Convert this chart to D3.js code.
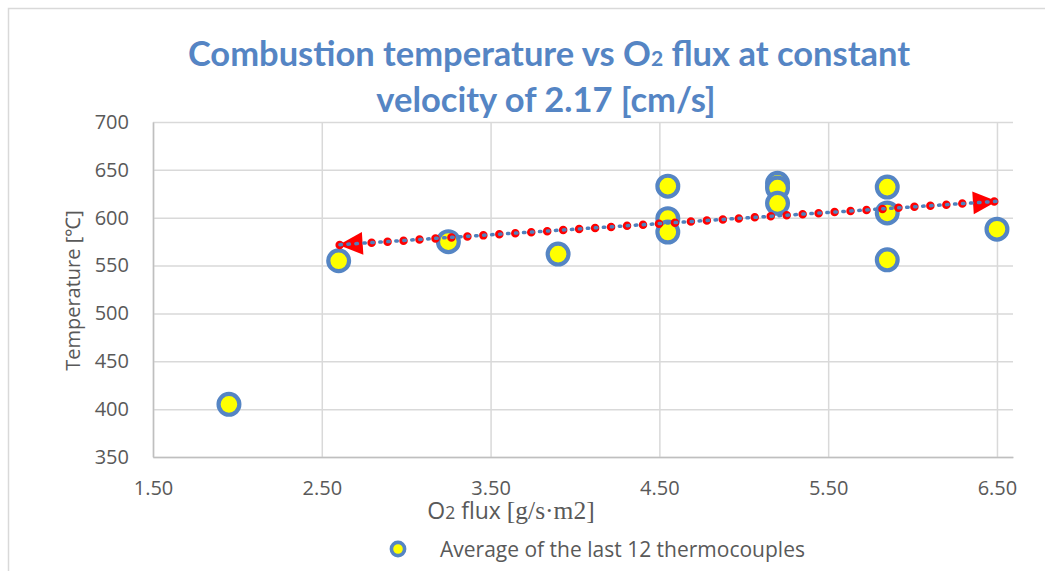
<!DOCTYPE html>
<html>
<head>
<meta charset="UTF-8">
<title>Combustion temperature vs O2 flux</title>
<style>
  body { margin: 0; background: #fff; }
  svg { display: block; }
</style>
</head>
<body>
<script src="https://cdn.jsdelivr.net/npm/d3@7"></script>
<script>

    // O2 flux [g/s·m2] and average temperature [°C] of the last 12 thermocouples
    var fluxX = [1.95, 2.60, 3.25, 3.90, 4.55, 4.55, 4.55, 5.20, 5.20, 5.20, 5.85, 5.85, 5.85, 6.50];
    var tempY = [405, 555, 575, 562, 633, 599, 585, 636, 631, 615, 632, 605, 556, 588];
    var xTicks = [1.5, 2.5, 3.5, 4.5, 5.5, 6.5];
    var yTicks = [350, 400, 450, 500, 550, 600, 650, 700];
    var trendFrom = 2.6;   // linear trendline fitted from this flux on

    var w = 1045,
        h = 571;
    var pLeft = 153, pTop = 122, pRight = 1013, pBottom = 457;

    var svg = d3.select('body').append('svg')
        .attr('width', w)
        .attr('height', h);

    // chart border
    svg.append('rect')
        .attr('x', 8.5).attr('y', 8.5)
        .attr('width', w + 20).attr('height', h + 20)
        .attr('fill', 'none')
        .attr('stroke', '#d9d9d9')
        .attr('stroke-width', 1.5);

    var x = d3.scaleLinear().domain([1.5, 6.595]).range([pLeft, pRight]);
    var y = d3.scaleLinear().domain([350, 700]).range([pBottom, pTop]);

    var tickFont = '"Open Sans", sans-serif';

    // grid
    svg.append('g')
        .attr('transform', 'translate(0,' + pBottom + ')')
        .call(d3.axisBottom(x).tickValues(xTicks).tickSize(-(pBottom - pTop)).tickFormat(''))
        .call(function(g) {
            g.select('.domain').remove();
            g.selectAll('line').attr('stroke', '#d9d9d9').attr('stroke-width', 1.5);
        });
    svg.append('g')
        .attr('transform', 'translate(' + pLeft + ',0)')
        .call(d3.axisLeft(y).tickValues(yTicks).tickSize(-(pRight - pLeft)).tickFormat(''))
        .call(function(g) {
            g.select('.domain').remove();
            g.selectAll('line').attr('stroke', '#d9d9d9').attr('stroke-width', 1.5);
        });

    // axes
    svg.append('g')
        .attr('transform', 'translate(0,' + pBottom + ')')
        .call(d3.axisBottom(x).tickValues(xTicks).tickSize(0).tickFormat(d3.format('.2f')))
        .call(function(g) {
            g.select('.domain').attr('stroke', '#bfbfbf').attr('stroke-width', 1.5);
            g.selectAll('text')
                .attr('dy', null)
                .attr('y', 38)
                .attr('fill', '#595959')
                .style('font-family', tickFont)
                .style('font-size', '20px');
        });
    svg.append('g')
        .attr('transform', 'translate(' + pLeft + ',0)')
        .call(d3.axisLeft(y).tickValues(yTicks).tickSize(0).tickPadding(24))
        .call(function(g) {
            g.select('.domain').attr('stroke', '#bfbfbf').attr('stroke-width', 1.5);
            g.selectAll('text')
                .attr('fill', '#595959')
                .style('font-family', tickFont)
                .style('font-size', '20px');
        });

    // points
    var points = fluxX.map(function(d, i) { return [d, tempY[i]]; });

    svg.append('g').selectAll('circle')
        .data(points)
        .enter()
        .append('circle')
        .attr('cx', function(d) { return x(d[0]); })
        .attr('cy', function(d) { return y(d[1]); })
        .attr('r', 10.4)
        .attr('fill', '#ffff00')
        .attr('stroke', '#5585c4')
        .attr('stroke-width', 4.2);

    // linear trendline (least squares)
    var fit = points.filter(function(d) { return d[0] >= trendFrom; });
    var mx = d3.mean(fit, function(d) { return d[0]; }),
        my = d3.mean(fit, function(d) { return d[1]; });
    var sxy = d3.sum(fit, function(d) { return (d[0] - mx) * (d[1] - my); }),
        sxx = d3.sum(fit, function(d) { return (d[0] - mx) * (d[0] - mx); });
    var slope = sxy / sxx, icpt = my - slope * mx;
    var x0 = d3.min(fit, function(d) { return d[0]; }),
        x1 = d3.max(fit, function(d) { return d[0]; });
    var p0 = [x(x0), y(icpt + slope * x0)],
        p1 = [x(x1), y(icpt + slope * x1)];
    var ang = Math.atan2(p1[1] - p0[1], p1[0] - p0[0]) * 180 / Math.PI;

    var trend = svg.append('g');
    trend.append('line')
        .attr('x1', p0[0]).attr('y1', p0[1])
        .attr('x2', p1[0]).attr('y2', p1[1])
        .attr('stroke', '#ff0000')
        .attr('stroke-width', 8.5)
        .attr('stroke-linecap', 'round')
        .attr('stroke-dasharray', '0 16')
        .attr('stroke-dashoffset', -33);

    var arrow = 'M0,0 L-24,-11.5 L-24,11.5 Z';
    trend.append('path')
        .attr('d', arrow)
        .attr('transform', 'translate(' + p1[0] + ',' + p1[1] + ') rotate(' + ang + ')')
        .attr('fill', '#ff0000');
    trend.append('path')
        .attr('d', arrow)
        .attr('transform', 'translate(' + p0[0] + ',' + p0[1] + ') rotate(' + (ang + 180) + ')')
        .attr('fill', '#ff0000');

    trend.append('line')
        .attr('x1', p0[0] - 3).attr('y1', p0[1])
        .attr('x2', p1[0]).attr('y2', p1[1])
        .attr('stroke', '#4f81bd')
        .attr('stroke-width', 3.5)
        .attr('stroke-linecap', 'round')
        .attr('stroke-dasharray', '1.5 6.5')
        .attr('stroke-dashoffset', -4.25);

    // title
    var title = svg.append('text')
        .attr('text-anchor', 'middle')
        .attr('fill', '#5585c4')
        .style('font-family', 'Lato, sans-serif')
        .style('font-weight', 'bold')
        .style('font-size', '34.5px');
    var t1 = title.append('tspan').attr('x', 549).attr('y', 66);
    t1.append('tspan').text('Combustion temperature vs O');
    t1.append('tspan').style('font-size', '21px').text('2');
    t1.append('tspan').text(' flux at constant');
    title.append('tspan').attr('x', 546).attr('y', 112).text('velocity of 2.17 [cm/s]');

    // axis titles
    var xt = svg.append('text')
        .attr('x', 511).attr('y', 519)
        .attr('text-anchor', 'middle')
        .attr('fill', '#595959')
        .style('font-family', tickFont)
        .style('font-size', '23px');
    xt.append('tspan').text('O');
    xt.append('tspan').style('font-size', '17.5px').text('2');
    xt.append('tspan').text(' flux ');
    xt.append('tspan').style('font-family', '"Liberation Serif", serif').style('font-size', '25.5px').text('[g/s·m2]');

    svg.append('text')
        .attr('transform', 'translate(80,' + ((pTop + pBottom) / 2 + 1) + ') rotate(-90)')
        .attr('text-anchor', 'middle')
        .attr('fill', '#595959')
        .style('font-family', tickFont)
        .style('font-size', '20px')
        .text('Temperature [℃]');

    // legend
    var legend = svg.append('g').attr('transform', 'translate(398,549)');
    legend.append('circle')
        .attr('r', 6.6)
        .attr('fill', '#ffff00')
        .attr('stroke', '#5585c4')
        .attr('stroke-width', 3.6);
    legend.append('text')
        .attr('x', 42).attr('y', 7.5)
        .attr('fill', '#595959')
        .style('font-family', tickFont)
        .style('font-size', '21px')
        .text('Average of the last 12 thermocouples');

</script>
</body>
</html>
